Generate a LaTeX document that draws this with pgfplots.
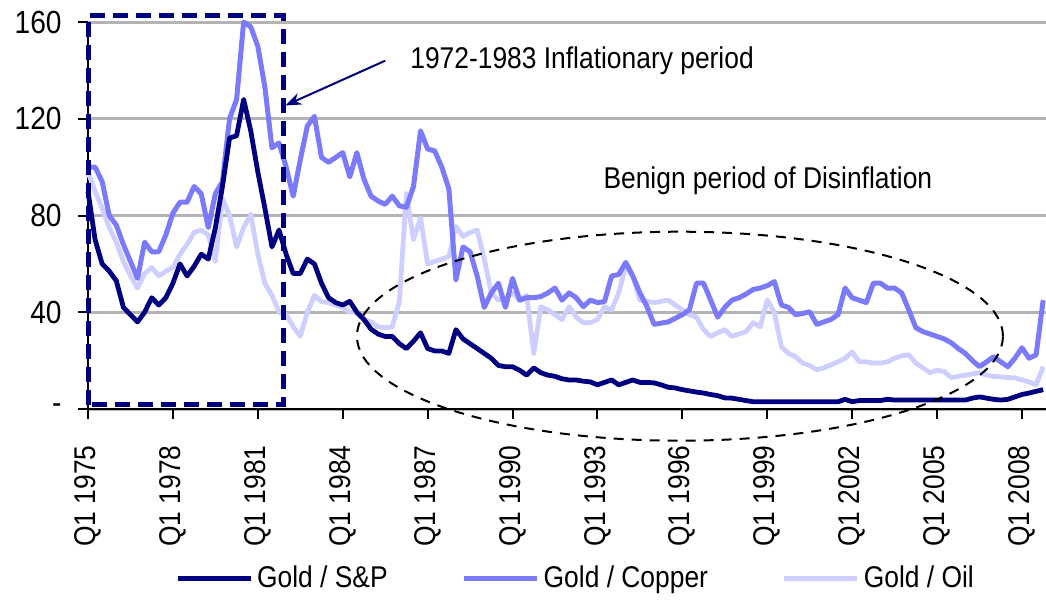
\documentclass[border=0pt]{standalone}
\usepackage{fontspec}
\setmainfont{Liberation Sans}[FakeStretch=0.88]
\usepackage{pgfplots}
\pgfplotsset{compat=1.18}
\usepackage{pgfplotstable}
\usetikzlibrary{arrows.meta}
\definecolor{navyc}{RGB}{0,0,128}
\definecolor{copperc}{RGB}{122,122,250}
\definecolor{oilc}{RGB}{206,206,255}
\definecolor{gridc}{RGB}{180,180,180}

\pgfplotstableread{
q sp cu oil
0 90 100 98
1 70 100 90
2 60 94 83
3 57 80 75
4 53 76 69
5 42 68 61
6 39 61 55
7 36 54 50
8 40 69 56
9 46 65 58.5
10 43 65 55
11 46 72 57
12 52 81 58.5
13 60 85.5 64
14 55 85.5 68
15 59 92 73
16 64 89 74
17 62 75 72
18 75 89 61
19 92 94 87
20 112 120 80
21 113 128 67
22 128 160 75
23 115 158 80.5
24 98 150 64
25 83 133 52
26 67 108 47
27 74 110 40
28 64 100 39
29 56 88 34
30 56 103 30
31 62 117 40
32 60 121 47
33 52 104 44.4
34 46 102 44
35 44 104 43
36 43 106 42
37 44.5 96 40
38 40 106 40
39 37 95 37
40 33 88 36
41 31 86 34
42 30 84.6 33.6
43 30 88 34
44 27 84 44.4
45 25 83.4 89
46 28 92 70
47 31.5 115 79
48 25 107.5 60
49 24 106.7 61
50 24 100 62
51 23 91 63
52 32.8 53.5 75.5
53 29 67 71.4
54 27 65 73
55 25 55 74
56 23 42 62
57 21 48 48
58 18 52 45
59 17.5 42 46
60 17.5 54 48
61 16 45 45
62 14 46 47
63 17 46 23
64 15 46.5 42.3
65 14 48 41
66 13.5 50 39
67 12.5 45 37
68 12 48 42.3
69 12 46 38
70 11.5 42.3 35.7
71 11.2 45 35.7
72 10 44 37
73 11 44.4 42.3
74 12 55 41
75 10 55.6 48
76 11 60.6 59
77 12 55 55
78 11 48 45
79 11 42.3 44.5
80 10.8 35 44
81 10 35.5 44.5
82 9 36 45
83 8.7 37.5 43
84 8 39 41
85 7.5 41 39
86 7 52 38
87 6.6 52 32.8
88 6 45 30
89 5.5 38 31.5
90 4.6 42 32.8
91 4.5 45 30
92 4 46 31
93 3.5 47.5 32
94 3 49.4 35.7
95 3 50 34
96 3 51 45
97 3 52.7 40
98 3 43 25.7
99 3 42 23
100 3 39 21.6
101 3 39.5 19
102 3 40.2 18
103 3 35 16.2
104 3 36 17
105 3 37 18.3
106 3 39 19.5
107 4 50 21
108 3 46 23.6
109 3.5 45 19.5
110 3.5 44 19.5
111 3.5 52 19
112 3.5 52 19
113 4 50 19.5
114 3.7 50 21
115 3.7 48 22
116 3.7 41 22.4
117 3.7 33.6 19
118 3.7 32 17
119 3.7 31 15
120 3.7 30 16
121 3.7 29 15.5
122 3.7 27.4 13
123 3.7 25 13.5
124 3.7 23 14
125 4.5 20 14.5
126 5 17.5 15
127 4.5 19.5 14
128 4 21.6 13.5
129 3.7 19.5 13.3
130 4 17.5 13
131 5 21 12.9
132 6 25.3 12
133 6.6 21 11.2
134 7.3 22.4 10
135 8 45 17.5
}\data

\begin{document}
\begin{tikzpicture}[font=\fontsize{15}{18}\selectfont]
\begin{axis}[
  scale only axis, width=479pt, height=193.5pt,
  xmin=0, xmax=135.4, ymin=0, ymax=160,
  axis x line=bottom, axis y line=left,
  axis line style={-, line width=1pt, black},
  xtick={0,12,...,132},
  xticklabels={Q1 1975,Q1 1978,Q1 1981,Q1 1984,Q1 1987,Q1 1990,Q1 1993,Q1 1996,Q1 1999,Q1 2002,Q1 2005,Q1 2008},
  ytick={0,40,80,120,160}, yticklabels={-,40,80,120,160},
  tick align=outside, major tick length=5pt,
  tick style={black, line width=1pt},
  ymajorgrids, grid style={gridc, line width=1.5pt},
  xticklabel shift=13pt,
  xticklabel style={rotate=90, anchor=east, inner sep=0pt, font=\fontsize{15}{18}\selectfont},
  yticklabel style={anchor=east, inner sep=0pt, font=\fontsize{16}{19}\selectfont, xshift=-8pt},
  clip=false,
  legend style={at={(0.51,-0.437)}, anchor=center, draw=none, fill=none,
    legend columns=3, font=\fontsize{15}{18}\selectfont,
    /tikz/every even column/.append style={column sep=35pt}},
  legend cell align=left,
  legend image code/.code={\draw[#1] (0pt,0pt) -- (36.5pt,0pt);},
  reverse legend,
]
\addplot[oilc, line width=2.4pt, line join=round] table[x=q, y=oil] {\data};
\addlegendentry{Gold / Oil}
\addplot[copperc, line width=2.5pt, line join=round] table[x=q, y=cu] {\data};
\addlegendentry{Gold / Copper}
\addplot[navyc, line width=2.4pt, line join=round] table[x=q, y=sp] {\data};
\addlegendentry{Gold / S\&P}

\draw[navyc, line width=2.5pt, dash pattern=on 7.5pt off 4pt] (axis cs:0,1.7) rectangle (axis cs:27.6,162.7);
\draw[navyc, line width=1pt, -{Stealth[length=8pt,width=6pt]}] (axis cs:42,144) -- (axis cs:27.9,125.5);
\node[anchor=west, inner sep=0pt] at (axis cs:45.5,144) {1972-1983 Inflationary period};
\node[anchor=west, inner sep=0pt] at (axis cs:72.8,94.2) {Benign period of Disinflation};
\draw[black, line width=1pt, dash pattern=on 5pt off 4pt] (axis cs:83.66,30.1) ellipse [x radius=161.5pt, y radius=52.25pt];
\coordinate (TL) at (axis cs:-12.44,169.1);
\coordinate (BR) at (axis cs:135.4,-82.3);
\end{axis}
\pgfresetboundingbox
\useasboundingbox (TL) rectangle (BR);
\end{tikzpicture}
\end{document}
